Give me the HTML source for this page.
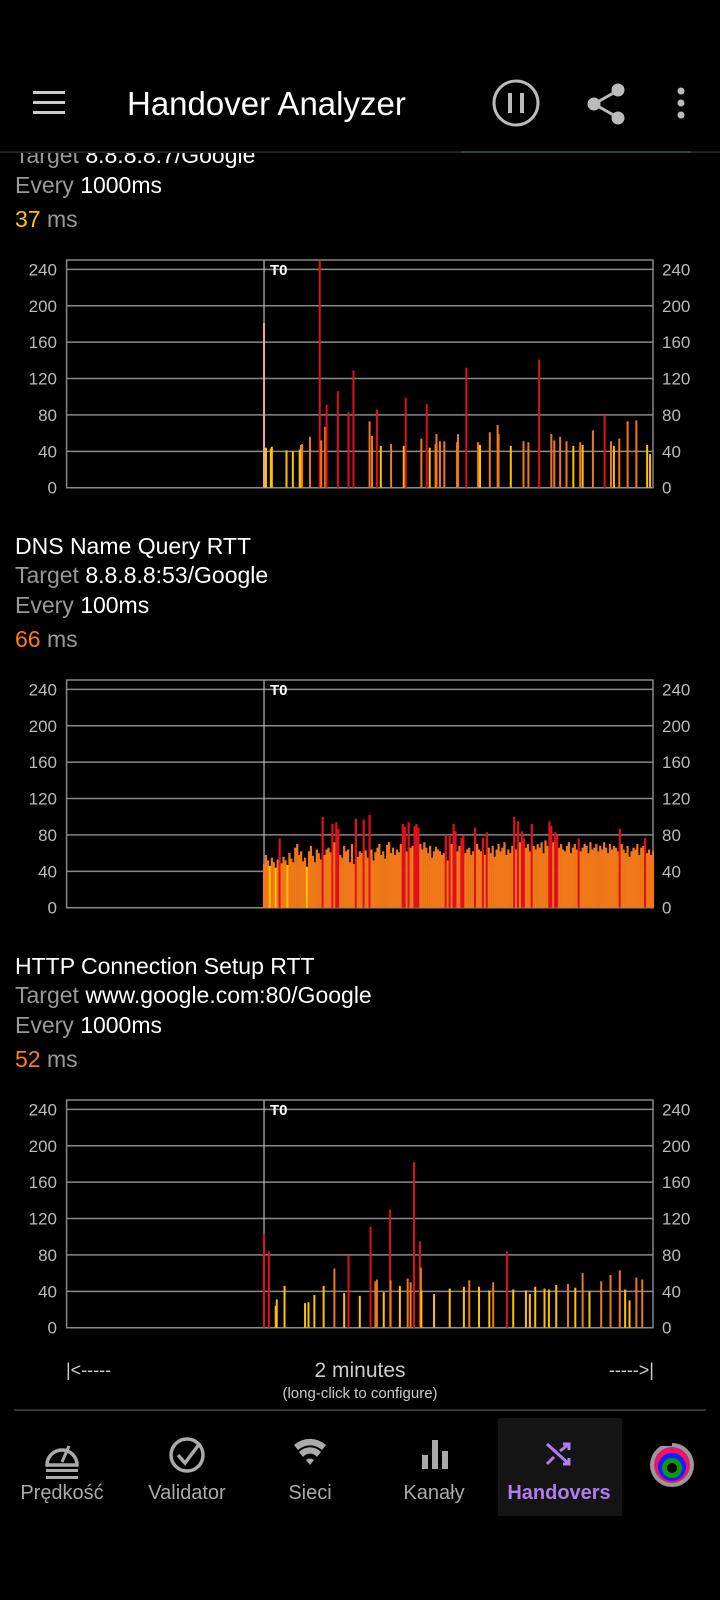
<!DOCTYPE html>
<html><head><meta charset="utf-8"><style>
html,body{margin:0;padding:0;background:#000;width:720px;height:1600px;overflow:hidden;font-family:"Liberation Sans",sans-serif}
svg{position:absolute;left:0;top:0}
</style></head><body>
<svg id="root" width="720" height="1600" viewBox="0 0 720 1600">
<defs><clipPath id="contentClip"><rect x="0" y="153" width="720" height="1250"/></clipPath></defs>
<!-- app bar -->
<g fill="#ccc">
<rect x="33" y="91" width="32" height="3"/><rect x="33" y="101" width="32" height="3"/><rect x="33" y="111" width="32" height="3"/></g>
<text x="127" y="115" font-size="33" fill="#fff">Handover Analyzer</text>
<g><circle cx="516" cy="103" r="22" fill="none" stroke="#bbb" stroke-width="3"/>
<rect x="508" y="93" width="4" height="20" fill="#bbb"/><rect x="520" y="93" width="4" height="20" fill="#bbb"/></g>
<g fill="#bbb" stroke="#bbb" stroke-width="3">
<line x1="594" y1="104" x2="617" y2="91"/><line x1="594" y1="104" x2="617" y2="117"/>
<circle cx="594" cy="104" r="5"/><circle cx="618" cy="90" r="5"/><circle cx="618" cy="118" r="5"/></g>
<g fill="#bbb"><circle cx="681" cy="91" r="3.5"/><circle cx="681" cy="103" r="3.5"/><circle cx="681" cy="115" r="3.5"/></g>
<rect x="0" y="151.5" width="720" height="1.2" fill="#2f3a38"/>
<rect x="461" y="151" width="230" height="2" fill="#1b4d43"/>
<g clip-path="url(#contentClip)" id="content" font-size="23">
<g>
<text x="15" y="163" fill="#999">Target <tspan fill="#fff">8.8.8.8:7/Google</tspan></text>
<text x="15" y="193" fill="#999">Every <tspan fill="#fff">1000ms</tspan></text>
<text x="15" y="227" fill="#999"><tspan fill="#ffc107">37</tspan> ms</text></g>
<g>
<text x="15" y="554" fill="#fff">DNS Name Query RTT</text>
<text x="15" y="583" fill="#999">Target <tspan fill="#fff">8.8.8.8:53/Google</tspan></text>
<text x="15" y="613" fill="#999">Every <tspan fill="#fff">100ms</tspan></text>
<text x="15" y="647" fill="#999"><tspan fill="#ff7a1a">66</tspan> ms</text></g>
<g>
<text x="15" y="974" fill="#fff">HTTP Connection Setup RTT</text>
<text x="15" y="1003" fill="#999">Target <tspan fill="#fff">www.google.com:80/Google</tspan></text>
<text x="15" y="1033" fill="#999">Every <tspan fill="#fff">1000ms</tspan></text>
<text x="15" y="1067" fill="#999"><tspan fill="#ff7a1a">52</tspan> ms</text></g>
<g id="charts"></g>
</g>
<g fill="#ccc">
<text x="66" y="1376" font-size="18">|&lt;-----</text>
<text x="654" y="1376" font-size="18" text-anchor="end">-----&gt;|</text>
<text x="360" y="1377" font-size="21" text-anchor="middle">2 minutes</text>
<text x="360" y="1398" font-size="15" text-anchor="middle">(long-click to configure)</text></g>
<rect x="14" y="1409.5" width="692" height="1.2" fill="#555"/>
<rect x="498" y="1418" width="124" height="98" fill="#141414"/>
<g font-size="20" fill="#aaa" text-anchor="middle">
<g><path d="M47 1465 a15 15 0 1 1 30 0 z" fill="none" stroke="#aaa" stroke-width="3.5"/><line x1="62" y1="1462" x2="69" y2="1446" stroke="#aaa" stroke-width="3"/>
<rect x="46" y="1469" width="32" height="3" fill="#aaa"/><rect x="46" y="1476" width="32" height="3" fill="#aaa"/><text x="62" y="1499">Prędkość</text></g>
<g><circle cx="187" cy="1455" r="16" fill="none" stroke="#aaa" stroke-width="3.5"/><path d="M178 1455 l7 8 l15 -20" fill="none" stroke="#aaa" stroke-width="3.5"/><text x="187" y="1499">Validator</text></g>
<g><path d="M294 1445 a24 24 0 0 1 32 0 l-4 5 a18 18 0 0 0 -24 0 z M299 1452 a15 15 0 0 1 22 0 l-4 5 a9 9 0 0 0 -14 0 z M306 1460 a6 6 0 0 1 8 0 l-4 5 z" fill="#aaa"/><text x="310" y="1499">Sieci</text></g>
<g><rect x="422" y="1455" width="6" height="14" fill="#aaa"/><rect x="432" y="1440" width="6" height="29" fill="#aaa"/><rect x="442" y="1451" width="6" height="18" fill="#aaa"/><text x="434" y="1499">Kanały</text></g>
<g><path d="M547 1444 l22 20 M547 1464 l7 -7 M560 1451 l9 -7 M563 1444 h6 v6 M563 1464 h6 v-6" stroke="#b07cf0" stroke-width="3" fill="none"/><text x="559" y="1499" fill="#b07cf0" font-weight="bold">Handovers</text></g>
<g><circle cx="672" cy="1465" r="22" fill="#999"/><circle cx="672" cy="1465" r="18" fill="#e8176a"/><circle cx="672" cy="1467" r="14" fill="#1a1aff"/><circle cx="672" cy="1468" r="10" fill="#0a9a0a"/><circle cx="672" cy="1468" r="5" fill="#000"/><rect x="648" y="1436" width="24" height="10" fill="#000"/></g>
</g>
</svg>
<script>
// ---- chart data ----
const yTicks = [0, 40, 80, 120, 160, 200, 240];
const t0Time = 40.4;
const pingTimes = [40.4,40.8,41.8,42.0,45.0,46.3,47.7,48.0,48.2,49.8,51.8,52.1,52.9,53.2,55.5,57.7,58.7,62.0,62.5,63.5,64.3,66.4,69.0,69.4,72.6,73.7,74.3,75.5,75.7,76.4,77.3,79.9,80.1,81.8,84.2,84.6,86.6,88.2,88.4,90.9,93.5,94.5,96.7,99.2,99.8,101.0,102.3,103.7,105.1,105.6,107.7,110.1,111.4,112.0,113.1,114.8,116.6,118.8,119.4];
const pingValues = [181,44,43,45,41,40,42,47,48,56,250,52,67,91,106,83,129,73,57,86,46,48,46,99,54,92,44,48,59,51,51,50,59,132,50,47,61,69,59,46,51,50,141,59,52,56,51,46,50,47,63,80,51,46,54,73,74,47,37];
const dnsStart = 40.4;
const dnsStep = 0.4;
const dnsValues = [48,58,52,46,55,50,44,53,76,49,56,52,47,60,54,50,66,70,58,62,51,55,45,62,68,57,50,64,60,53,100,58,64,66,61,92,72,94,87,58,55,68,62,64,50,70,48,98,56,62,60,97,63,55,102,64,52,61,66,70,58,62,54,69,72,60,66,58,64,61,70,92,89,62,94,66,68,90,92,88,70,64,72,66,60,68,55,62,67,64,62,58,60,80,52,80,70,92,84,62,68,77,79,60,64,66,58,62,88,70,64,62,77,58,83,66,60,68,56,64,70,62,66,72,58,64,60,68,100,64,95,72,84,76,66,70,62,92,68,64,70,66,72,60,74,68,95,90,72,83,79,66,70,64,62,68,72,60,66,70,64,76,62,66,70,68,60,72,64,66,70,62,68,64,72,66,60,70,64,68,66,62,87,70,64,60,68,56,62,66,64,70,58,66,68,77,60,64,58,62];
const httpTimes = [40.4,41.4,42.8,43.0,44.6,48.8,49.5,50.7,52.6,54.8,56.8,57.7,60.0,62.2,63.2,63.5,64.9,66.2,66.3,68.2,69.8,70.4,71.1,72.3,72.5,72.6,75.2,78.4,81.3,82.4,84.4,86.5,87.3,90.1,91.4,94.0,94.8,95.9,97.8,98.7,100.2,102.6,104.1,105.6,107.0,109.4,111.3,113.2,114.3,115.2,116.6,117.8];
const httpValues = [103,84,24,31,46,27,28,36,46,65,38,79,35,111,51,53,39,130,52,46,54,50,182,95,66,41,37,43,45,52,45,41,50,84,42,41,37,45,43,42,47,48,44,60,40,51,58,63,42,30,55,53];

const NS = 'http://www.w3.org/2000/svg';
const L = 66.6, R = 653, SPAN = 120, H = 227.7, MAXV = 240, PLOT_V = 218.3;
function xs(t){ return L + (t / SPAN) * (R - L); }
function ys(v, top){ return top + H - Math.min(v, 250) / MAXV * PLOT_V; }
function colorFor(v, i, pink){ if (pink && i === 0) return '#f3a0b0'; return v >= 75 ? '#e0101c' : (v >= 48 ? '#f07818' : '#ffc000'); }
function mk(tag, attrs, parent){ const e = document.createElementNS(NS, tag); for (const k in attrs) e.setAttribute(k, attrs[k]); parent.appendChild(e); return e; }

function drawChart(name, top, times, values, bw, pink){
  const g = mk('g', {}, document.getElementById('charts'));
  
  
  const frame = mk('rect', {x: L, y: top, width: R - L, height: H, fill: 'none', stroke: '#888', 'stroke-width': 1.5}, g);
  
  
  yTicks.forEach(v => {
    const y = ys(v, top);
    const ln = mk('line', {x1: L, x2: R, y1: y, y2: y, stroke: '#8a8a8a', 'stroke-width': 1.5}, g);
    
    
    const tl = mk('text', {x: 57, y: y + 6, 'font-size': 17, fill: '#bbb', 'text-anchor': 'end'}, g);
    tl.textContent = v;
    
    
    const tr = mk('text', {x: 662, y: y + 6, 'font-size': 17, fill: '#bbb'}, g);
    tr.textContent = v;
    
    
  });
  const tx = xs(t0Time);
  const t0 = mk('line', {x1: tx, x2: tx, y1: top, y2: top + H, stroke: '#bbb', 'stroke-width': 1.2}, g);
  
  
  const t0l = mk('text', {x: tx + 6, y: top + 15, 'font-size': 15, fill: '#fff', 'font-weight': 'bold'}, g);
  t0l.textContent = 'T0';
  
  
  values.forEach((v, i) => {
    const x = xs(times[i]);
    const y = ys(v, top);
    const b = mk('rect', {x: x - bw / 2, y: y, width: bw, height: top + H - y, fill: colorFor(v, i, pink)}, g);
    
    
  });
}
const dnsTimes = dnsValues.map((_, i) => dnsStart + i * dnsStep);
drawChart('ping-rtt-chart', 260, pingTimes, pingValues, 2, true);
drawChart('dns-rtt-chart', 680, dnsTimes, dnsValues, 2.2, false);
drawChart('http-rtt-chart', 1100, httpTimes, httpValues, 2, false);
</script>
</body></html>
